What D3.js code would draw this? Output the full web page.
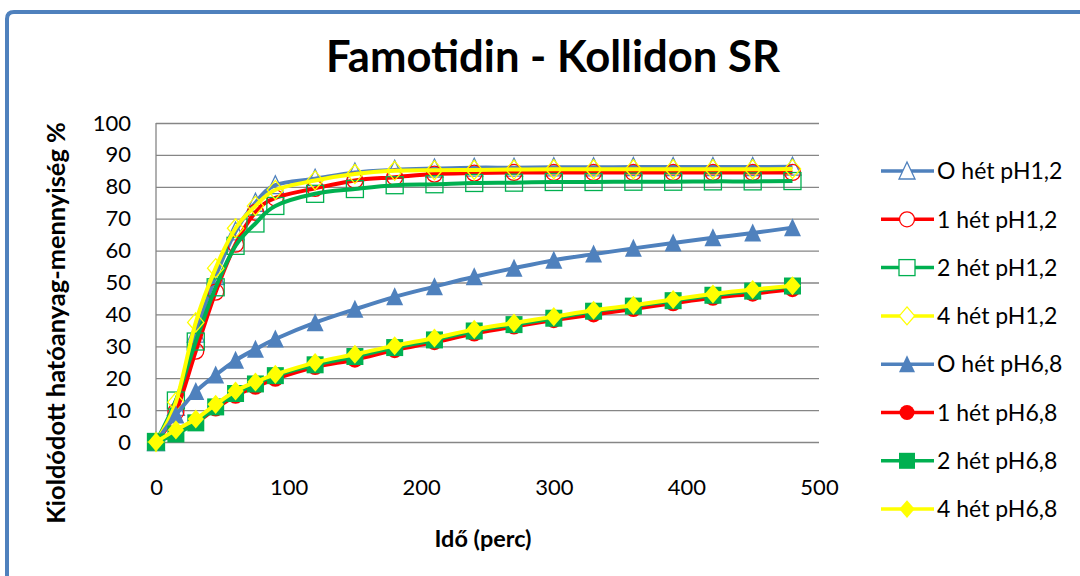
<!DOCTYPE html>
<html>
<head>
<meta charset="utf-8">
<script src="https://cdn.jsdelivr.net/npm/d3@7"></script>
<style>
  html, body { margin: 0; padding: 0; background: #fff; }
  svg { display: block; font-family: Lato, "Open Sans", sans-serif; }
</style>
</head>
<body>
<svg id="chart" width="1080" height="576"></svg>
<script>
// ---- data ----
const times = [0, 15, 30, 45, 60, 75, 90, 120, 150, 180, 210, 240, 270, 300, 330, 360, 390, 420, 450, 480];
const seriesNames = ["O hét pH1,2", "1 hét pH1,2", "2 hét pH1,2", "4 hét pH1,2",
                     "O hét pH6,8", "1 hét pH6,8", "2 hét pH6,8", "4 hét pH6,8"];
const het0_pH12 = [0, 11, 34, 52, 66, 75, 80.5, 82.5, 84.5, 85.3, 85.7, 86, 86, 86.1, 86.1, 86.2, 86.2, 86.2, 86.2, 86.3];
const het1_pH12 = [0, 9.5, 28.5, 47, 62, 72, 76.5, 79.5, 82, 83, 84, 84.3, 84.5, 84.5, 84.5, 84.5, 84.5, 84.5, 84.5, 84.5];
const het2_pH12 = [0, 13, 31.5, 48.5, 61.5, 68.5, 74, 77.8, 79.3, 80.5, 80.8, 81.2, 81.3, 81.5, 81.5, 81.6, 81.6, 81.7, 81.7, 81.8];
const het4_pH12 = [0, 12.5, 37.5, 54.5, 67, 74, 79, 82, 84, 85, 85.2, 85.3, 85.4, 85.5, 85.5, 85.5, 85.5, 85.5, 85.5, 85.6];
const het0_pH68 = [0, 8.5, 15.8, 21, 25.6, 29.1, 32.3, 37.4, 41.6, 45.5, 48.7, 51.8, 54.5, 57, 58.9, 60.7, 62.4, 64, 65.5, 67.2];
const het1_pH68 = [0, 3, 6, 10.5, 14.5, 17.3, 19.8, 23.5, 25.8, 28.8, 31.3, 34, 36.2, 38.2, 40, 41.7, 43.5, 45.2, 46.5, 47.9];
const het2_pH68 = [0, 2.5, 6, 11, 15.2, 18.2, 20.8, 24.2, 26.8, 29.6, 32, 34.8, 36.8, 38.8, 41, 42.6, 44.3, 46, 47.3, 48.9];
const het4_pH68 = [0, 3.8, 7.2, 11.8, 16, 18.8, 21.2, 24.9, 27.5, 30.2, 32.6, 35.3, 37.3, 39.3, 41.3, 42.9, 44.7, 46.4, 47.8, 49];
const xTicks = [0, 100, 200, 300, 400, 500];
const yTicks = [0, 10, 20, 30, 40, 50, 60, 70, 80, 90, 100];
const titleText = "Famotidin - Kollidon SR";
const xTitle = "Idő (perc)";
const yTitle = "Kioldódott hatóanyag-mennyiség %";

// ---- styles ----
const BLUE = "#4F81BD", RED = "#FF0000", GREEN = "#00B050", YELLOW = "#FFFF00";
const seriesValues = [het0_pH12, het1_pH12, het2_pH12, het4_pH12, het0_pH68, het1_pH68, het2_pH68, het4_pH68];
const styles = [
  {color: BLUE,   shape: "triangle", open: true},
  {color: RED,    shape: "circle",   open: true},
  {color: GREEN,  shape: "square",   open: true},
  {color: YELLOW, shape: "diamond",  open: true},
  {color: BLUE,   shape: "triangle", open: false},
  {color: RED,    shape: "circle",   open: false},
  {color: GREEN,  shape: "square",   open: false},
  {color: YELLOW, shape: "diamond",  open: false}
];

const svg = d3.select("#chart");
const x = d3.scaleLinear().domain([0, 500]).range([156, 819]);
const y = d3.scaleLinear().domain([0, 100]).range([442, 123]);

// outer border (top and left visible)
const r = 7;
svg.append("path")
  .attr("d", `M7,580 L7,${12 + r} Q7,12 ${7 + r},12 L1085,12`)
  .attr("fill", "none").attr("stroke", BLUE).attr("stroke-width", 4);

// gridlines + y axis
const yAxis = d3.axisLeft(y).tickValues(yTicks).tickSize(-(x.range()[1] - x.range()[0])).tickPadding(25);
const gy = svg.append("g").attr("transform", `translate(${x.range()[0]},0)`).call(yAxis);
gy.select(".domain").remove();
gy.selectAll(".tick line").attr("stroke", "#868686").attr("stroke-width", 1.3);
gy.selectAll(".tick text").attr("font-size", 22).attr("fill", "#000").attr("font-family", "Lato");
svg.append("line").attr("x1", x.range()[0]).attr("x2", x.range()[0]).attr("y1", y(100)).attr("y2", y(0))
  .attr("stroke", "#868686").attr("stroke-width", 1.3);

// x axis labels
const xAxis = d3.axisBottom(x).tickValues(xTicks).tickSize(0).tickPadding(37);
const gx = svg.append("g").attr("transform", `translate(0,${y(0)})`).call(xAxis);
gx.select(".domain").remove();
gx.selectAll(".tick text").attr("font-size", 22).attr("fill", "#000").attr("font-family", "Lato");

// marker generator
function marker(sel, st, size) {
  const s = size;
  let node;
  if (st.shape === "circle") {
    node = sel.append("circle").attr("r", s / 2 - 0.5);
  } else if (st.shape === "square") {
    node = sel.append("rect").attr("x", -s / 2).attr("y", -s / 2).attr("width", s).attr("height", s);
  } else if (st.shape === "triangle") {
    node = sel.append("path").attr("d", `M0,${-s / 2 - 1} L${s / 2},${s / 2} L${-s / 2},${s / 2} Z`);
  } else {
    const w = s * 0.48, h = s * 0.56;
    node = sel.append("path").attr("d", `M0,${-h} L${w},0 L0,${h} L${-w},0 Z`);
  }
  if (st.open) {
    node.attr("fill", "none").attr("stroke", st.color).attr("stroke-width", 1.3);
  } else {
    node.attr("fill", st.color).attr("stroke", "none");
  }
}

// series
const line = d3.line().x(d => x(d[0])).y(d => y(d[1])).curve(d3.curveCardinal.tension(0));
seriesValues.forEach((vals, i) => {
  const st = styles[i];
  const pts = times.map((t, j) => [t, vals[j]]);
  const g = svg.append("g");
  g.append("path").attr("d", line(pts)).attr("fill", "none")
    .attr("stroke", st.color).attr("stroke-width", 4).attr("stroke-linejoin", "round");
  pts.forEach(p => {
    const mg = g.append("g").attr("transform", `translate(${x(p[0])},${y(p[1])})`);
    marker(mg, st, 17);
  });
});

// legend
const legY0 = 171, legDY = 48.3;
seriesNames.forEach((name, i) => {
  const st = styles[i];
  const g = svg.append("g").attr("transform", `translate(0,${legY0 + i * legDY})`);
  g.append("line").attr("x1", 881).attr("x2", 934).attr("y1", 0).attr("y2", 0)
    .attr("stroke", st.color).attr("stroke-width", 3.5);
  const mg = g.append("g").attr("transform", "translate(907,0)");
  marker(mg, Object.assign({}, st), 16);
  if (st.open) mg.select("*").attr("fill", "#fff");
  g.append("text").attr("x", 937).attr("y", 0).attr("dy", "0.36em")
    .attr("font-size", 23).attr("fill", "#000").text(name);
});

// fit helper
function fitWidth(t, target) {
  const fs = parseFloat(t.attr("font-size"));
  const w = t.node().getComputedTextLength();
  t.attr("font-size", fs * target / w);
}

// title
const tt = svg.append("text").attr("x", 553).attr("y", 72).attr("text-anchor", "middle")
  .attr("font-size", 36).attr("font-weight", "bold").attr("fill", "#000").text(titleText);
fitWidth(tt, 454);

// x title
const xt = svg.append("text").attr("x", 483).attr("y", 547).attr("text-anchor", "middle")
  .attr("font-size", 23).attr("font-weight", "bold").attr("fill", "#000").text(xTitle);
fitWidth(xt, 97);

// y title
const yt = svg.append("text").attr("transform", "translate(65,323) rotate(-90)").attr("text-anchor", "middle")
  .attr("font-size", 25).attr("font-weight", "bold").attr("fill", "#000").text(yTitle);
fitWidth(yt, 402);
</script>
</body>
</html>
